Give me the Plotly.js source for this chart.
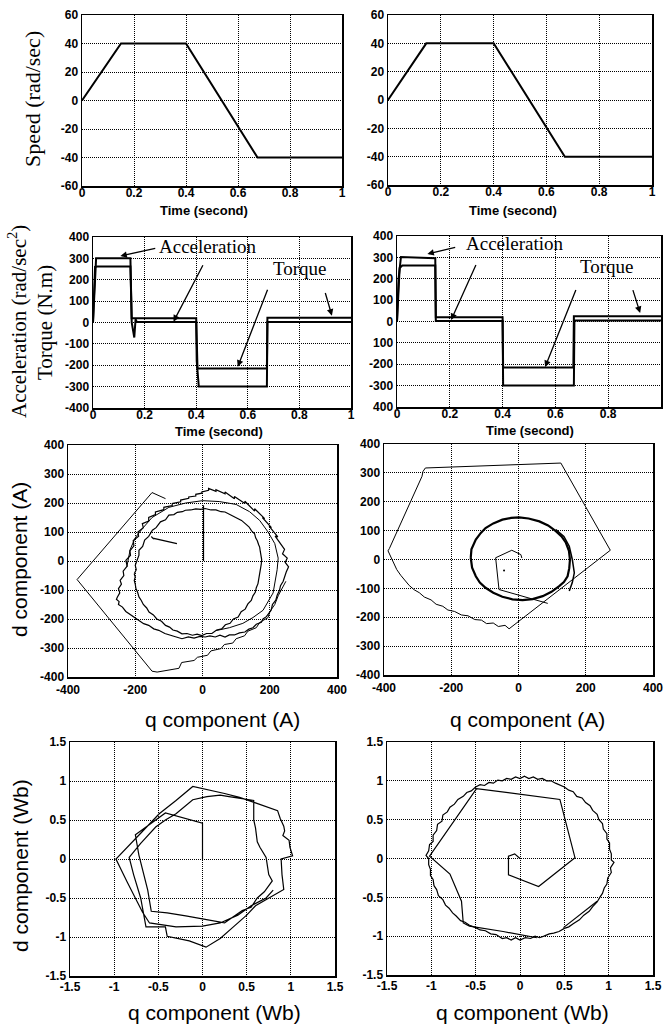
<!DOCTYPE html>
<html>
<head>
<meta charset="utf-8">
<script src="https://cdn.plot.ly/plotly-3.0.1.min.js"></script>
<style>html,body{margin:0;padding:0;background:#fff}#chart{width:664px;height:1028px}</style>
</head>
<body>
<div id="chart"></div>
<script>
// ---------- Row 1: speed ----------
const speedTimeL = [0, 0.15, 0.40, 0.675, 1.0];
const speedValL  = [0, 40, 40, -40, -40];
const speedTimeR = [0, 0.145, 0.40, 0.67, 1.0];
const speedValR  = [0, 40, 40, -40, -40];

// ---------- Row 2: acceleration / torque ----------
const accTimeL = [0, 0.005, 0.012, 0.145, 0.15, 0.16, 0.165, 0.17, 0.40, 0.402, 0.41, 0.674, 0.676, 1.0];
const accValL  = [0, 150, 300, 300, 0, -70, 15, 2, 2, -180, -300, -300, 2, 2];
const torTimeL = [0, 0.008, 0.015, 0.145, 0.15, 0.40, 0.405, 0.674, 0.676, 1.0];
const torValL  = [0, 260, 262, 262, 20, 20, -215, -215, 22, 22];
const accTimeR = [0, 0.006, 0.015, 0.145, 0.147, 0.40, 0.402, 0.67, 0.672, 1.0];
const accValR  = [0, 200, 302, 296, 2, 2, -300, -300, 5, 5];
const torTimeR = [0, 0.01, 0.02, 0.145, 0.147, 0.40, 0.402, 0.668, 0.67, 1.0];
const torValR  = [0, 250, 262, 262, 20, 20, -215, -215, 25, 25];

// ---------- Row 3: current trajectories (A), [q, d] pairs ----------
const curL_start = [[3,0],[3,192]];
const curL_hook = [[-76,60],[-148,79],[-152,84],[-145,76]];
const curL_inner = [[-203,-44],[-197,-30],[-200,-15],[-194,5],[-189,20],[-189,37],[-178,50],[-172,72],[-160,85],[-149,106],[-138,115],[-125,135],[-110,142],[-100,158],[-85,160],[-75,168],[-60,170],[-51,175],[-35,176],[-20,180],[-5,178],[8,181],[25,176],[40,176],[55,170],[67,169],[82,160],[95,155],[106,146],[116,140],[128,128],[138,118],[146,104],[155,94],[158,80],[163,70],[167,56],[170,48],[172,32],[174,20],[176,5],[175,-9],[172,-28],[171,-45],[168,-60],[165,-78],[160,-92],[157,-108],[150,-120],[145,-136],[135,-148],[127,-166],[115,-175],[106,-193],[92,-200],[82,-215],[68,-220],[57,-234],[42,-238],[28,-250],[12,-250],[-2,-257],[-16,-252],[-30,-256],[-46,-250],[-61,-251],[-75,-242],[-88,-238],[-98,-228],[-110,-222],[-122,-208],[-136,-200],[-146,-186],[-159,-176],[-166,-162],[-176,-150],[-182,-136],[-189,-124],[-193,-108],[-198,-95],[-200,-80],[-203,-67],[-200,-55],[-203,-44]];
const curL_mid = [[-225,-20],[-215,40],[-200,80],[-180,110],[-150,150],[-100,185],[-50,200],[0,208],[50,205],[100,195],[140,170],[170,140],[195,100],[215,60],[225,10],[222,-30],[210,-110],[195,-140],[180,-170],[150,-195],[120,-215],[80,-230],[40,-240]];
const curL_outer = [[-253,-124],[-246,-110],[-250,-95],[-241,-80],[-245,-67],[-234,-50],[-236,-35],[-224,-18],[-228,2],[-214,20],[-216,35],[-204,52],[-206,71],[-190,85],[-192,100],[-176,115],[-179,129],[-160,138],[-160,150],[-140,160],[-140,169],[-115,177],[-115,185],[-90,191],[-90,198],[-65,204],[-65,210],[-41,216],[-41,221],[-20,224],[-20,230],[-2,234],[-2,238],[18,244],[18,250],[40,240],[40,246],[67,232],[67,238],[95,215],[95,222],[126,198],[126,206],[155,172],[155,180],[185,146],[178,150],[205,115],[198,120],[224,83],[216,86],[235,55],[244,40],[238,25],[252,10],[246,-5],[256,-20],[249,-38],[244,-55],[240,-70],[232,-85],[229,-101],[222,-118],[218,-135],[208,-150],[204,-170],[196,-182],[190,-192],[180,-200],[175,-211],[160,-218],[150,-230],[138,-235],[126,-245],[110,-248],[95,-255],[80,-255],[67,-262],[52,-256],[38,-262],[22,-258],[8,-262],[-8,-260],[-25,-266],[-42,-262],[-61,-268],[-78,-262],[-95,-255],[-112,-250],[-130,-239],[-145,-234],[-160,-222],[-175,-216],[-189,-205],[-200,-196],[-215,-182],[-228,-174],[-238,-159],[-250,-150],[-248,-140],[-256,-132],[-253,-124]];
const curL_poly = [[-110,215],[-150,236],[-373,-64],[-150,-380],[-135,-383],[-100,-376],[-70,-370],[-62,-350],[-25,-343],[-15,-332],[15,-325],[25,-310],[55,-302],[65,-288],[90,-283],[100,-268],[125,-258],[135,-242],[160,-230],[170,-212],[195,-195],[200,-175],[215,-150],[225,-120],[235,-100],[248,-70]];

const curR_poly = [[-277,317],[126,334],[273,32],[-28,-240],[-40,-228],[-60,-232],[-75,-220],[-95,-222],[-110,-210],[-130,-208],[-150,-195],[-170,-192],[-190,-180],[-210,-175],[-225,-162],[-245,-155],[-260,-140],[-280,-130],[-295,-115],[-310,-105],[-325,-90],[-340,-70],[-350,-55],[-362,-35],[-370,-15],[-378,0],[-382,15],[-388,30],[-384,38],[-287,288],[-284,305],[-277,317]];
const curR_ring = [[-142,6],[-140,35],[-127,69],[-112,92],[-98,109],[-75,125],[-48,138],[-22,144],[2,146],[30,142],[62,132],[88,118],[111,98],[128,80],[141,58],[150,30],[153,0],[151,-30],[146,-58],[135,-78],[121,-92],[98,-112],[72,-127],[42,-137],[12,-141],[-18,-138],[-48,-129],[-75,-115],[-98,-98],[-115,-80],[-127,-58],[-138,-28],[-142,6]];
const curR_side = [[111,104],[135,80],[151,46],[160,0],[166,-46],[160,-80],[151,-109]];
const curR_pent = [[10,5],[7,17],[-20,32],[-68,6],[-58,-104],[87,-152]];
const curR_dot = [[-43,-38]];

// ---------- Row 4: flux trajectories (Wb), [q, d] pairs ----------
const fluxL = [[0,0],[0,0.46],[-0.42,0.59],[-0.76,0.31],[-0.72,0.05],[-0.62,-0.40],[-0.58,-0.67],[-0.40,-0.69],[-0.19,-0.73],[0.05,-0.78],[0.25,-0.82],[0.30,-0.78],[0.45,-0.66],[0.55,-0.62],[0.62,-0.50],[0.70,-0.42],[0.79,-0.28],[0.75,-0.20],[0.72,0.02],[0.65,0.15],[0.62,0.22],[0.60,0.40],[0.58,0.50],[0.58,0.75],[0.45,0.77],[0.30,0.80],[0.20,0.82],[0.05,0.80],[-0.11,0.76],[-0.30,0.58],[-0.42,0.50],[-0.53,0.41],[-0.70,0.20],[-0.83,0.02],[-0.78,-0.20],[-0.70,-0.50],[-0.64,-0.87],[-0.42,-0.87],[-0.40,-0.99],[-0.15,-1.05],[0.04,-1.13],[0.20,-1.02],[0.34,-0.88],[0.50,-0.72],[0.60,-0.60],[0.75,-0.50],[0.92,-0.39],[0.90,-0.20],[0.89,0.00],[1.02,0.04],[0.99,0.15],[0.98,0.24],[0.91,0.30],[0.93,0.36],[0.92,0.42],[0.88,0.52],[0.85,0.62],[0.60,0.72],[0.42,0.79],[0.25,0.84],[0.10,0.88],[-0.11,0.93],[-0.30,0.75],[-0.49,0.58],[-0.70,0.33],[-0.98,0.00],[-0.85,-0.30],[-0.68,-0.68],[-0.60,-0.82],[-0.30,-0.87],[0.00,-0.86],[0.20,-0.82],[0.40,-0.72],[0.55,-0.60],[0.72,-0.50],[0.80,-0.40]];
const fluxR_start = [[0,0],[-0.06,0.06],[-0.13,0.03],[-0.13,-0.21],[0.21,-0.36],[0.62,0.01],[0.45,0.76],[-0.49,0.90],[-1.02,0.03],[-0.79,-0.20],[-0.66,-0.55],[-0.64,-0.83],[-0.57,-0.87],[-0.19,-0.94],[0.19,-1.02]];
const fluxR_chord = [[0.49,-0.89],[0.87,-0.55]];
const fluxR_ring = [[-0.5,0.92],[-0.45,0.95],[-0.4,0.94],[-0.35,0.98],[-0.3,0.97],[-0.25,1.01],[-0.2,1.0],[-0.15,1.03],[-0.1,1.02],[-0.05,1.05],[0.0,1.03],[0.05,1.06],[0.1,1.03],[0.15,1.05],[0.2,1.02],[0.25,1.03],[0.3,1.0],[0.35,1.0],[0.4,0.97],[0.45,0.95],[0.5,0.92],[0.55,0.88],[0.6,0.86],[0.64,0.8],[0.7,0.78],[0.74,0.72],[0.79,0.68],[0.82,0.62],[0.87,0.57],[0.89,0.5],[0.93,0.45],[0.94,0.38],[0.98,0.32],[0.98,0.25],[1.01,0.2],[1.01,0.12],[1.03,0.06],[1.03,-0.02],[1.06,-0.05],[1.02,-0.12],[1.03,-0.18],[0.99,-0.25],[0.98,-0.33],[0.95,-0.38],[0.93,-0.45],[0.9,-0.5],[0.87,-0.56],[0.82,-0.62],[0.78,-0.68],[0.72,-0.73],[0.67,-0.79],[0.6,-0.84],[0.55,-0.88],[0.5,-0.9],[0.44,-0.94],[0.38,-0.96],[0.33,-0.97],[0.27,-1.0],[0.22,-1.02],[0.17,-1.0],[0.12,-1.03],[0.06,-1.02],[0.0,-1.05],[-0.05,-1.02],[-0.1,-1.05],[-0.15,-1.02],[-0.2,-1.03],[-0.27,-0.98],[-0.33,-0.97],[-0.39,-0.93],[-0.45,-0.92],[-0.5,-0.89],[-0.57,-0.86],[-0.62,-0.82],[-0.67,-0.8],[-0.72,-0.74],[-0.76,-0.7],[-0.8,-0.64],[-0.84,-0.6],[-0.87,-0.53],[-0.92,-0.48],[-0.94,-0.4],[-0.97,-0.35],[-0.98,-0.27],[-1.01,-0.22],[-1.01,-0.14],[-1.03,-0.08],[-1.03,0.0],[-1.06,0.04],[-1.03,0.1],[-1.02,0.18],[-0.98,0.22],[-0.98,0.3],[-0.94,0.36],[-0.93,0.44],[-0.88,0.48],[-0.87,0.56],[-0.82,0.6],[-0.79,0.66],[-0.74,0.7],[-0.7,0.76],[-0.64,0.8],[-0.6,0.85],[-0.55,0.87],[-0.5,0.92]];

// ---------- tick labels ----------
const timeTicks = [0,0.2,0.4,0.6,0.8,1];
const timeTickText = ['0','0.2','0.4','0.6','0.8','1'];
const speedTicks = [-60,-40,-20,0,20,40,60];
const speedTickText = ['-60','-40','-20','0','20','40','60'];
const torqueTicks = [-400,-300,-200,-100,0,100,200,300,400];
const torqueTickTextL = ['-400','-300','-200','-100','0','100','200','300','400'];
const torqueTickTextR = ['400','-300','-200','100','0','100','200','300','400'];
const curTicks = [-400,-300,-200,-100,0,100,200,300,400];
const curTickText = ['-400','-300','-200','-100','0','100','200','300','400'];
const curXTicks = [-400,-200,0,200,400];
const curXTickText = ['-400','-200','0','200','400'];
const fluxTicks = [-1.5,-1,-0.5,0,0.5,1,1.5];
const fluxTickText = ['-1.5','-1','-0.5','0','0.5','1','1.5'];

// ---------- layout helpers ----------
const W = 664, H = 1028;
const SANS = 'Liberation Sans, Arial, sans-serif';
const SERIF = 'Liberation Serif, Times New Roman, serif';
function dx(a,b){return [a/W, b/W];}
function dy(top,bot){return [1-bot/H, 1-top/H];}
function axis(domain, range, vals, text, anchor, standoff){
  return {domain: domain, range: range, tickmode:'array', tickvals: vals, ticktext: text,
    anchor: anchor, showgrid:true, gridcolor:'#000', griddash:'1px,1px', gridwidth:1,
    zeroline:false, showline:true, linecolor:'#000', linewidth:1.5, mirror:true,
    ticks:'', ticklabelstandoff: standoff||0,
    tickfont:{family:SANS, size:12, color:'#000', weight:'bold'}, fixedrange:true};
}
function line(pts, xa, ya, w){
  return {x: pts.map(p=>p[0]), y: pts.map(p=>p[1]), xaxis:xa, yaxis:ya, mode:'lines',
    line:{color:'#000', width:w||1}, hoverinfo:'skip'};
}
function line2(x, y, xa, ya, w){
  return {x:x, y:y, xaxis:xa, yaxis:ya, mode:'lines', line:{color:'#000', width:w||1}, hoverinfo:'skip'};
}

const traces = [
  line2(speedTimeL, speedValL, 'x', 'y', 2),
  line2(speedTimeR, speedValR, 'x2', 'y2', 2),
  line2(accTimeL, accValL, 'x3', 'y3', 2),
  line2(torTimeL, torValL, 'x3', 'y3', 2),
  line2(accTimeR, accValR, 'x4', 'y4', 2),
  line2(torTimeR, torValR, 'x4', 'y4', 2),
  line(curL_start, 'x5', 'y5', 1.2),
  line(curL_hook, 'x5', 'y5', 1.2),
  line(curL_inner, 'x5', 'y5', 1.2),
  line(curL_mid, 'x5', 'y5', 1),
  line(curL_outer, 'x5', 'y5', 1.2),
  line(curL_poly, 'x5', 'y5', 1),
  line(curR_poly, 'x6', 'y6', 1),
  line(curR_ring, 'x6', 'y6', 2.2),
  line(curR_side, 'x6', 'y6', 1.5),
  line(curR_pent, 'x6', 'y6', 1),
  {x: curR_dot.map(p=>p[0]), y: curR_dot.map(p=>p[1]), xaxis:'x6', yaxis:'y6', mode:'markers', marker:{color:'#000', size:2}, hoverinfo:'skip'},
  line(fluxL, 'x7', 'y7', 1.2),
  line(fluxR_start, 'x8', 'y8', 1.2),
  line(fluxR_chord, 'x8', 'y8', 1.2),
  line(fluxR_ring, 'x8', 'y8', 1.2)
];

function ann(text, px, py, size, family, angle){
  return {text: text, x: px/W, y: 1-py/H, xref:'paper', yref:'paper', showarrow:false,
    xanchor:'center', yanchor:'middle', textangle: angle||0,
    font:{family: family, size: size, color:'#000'}};
}
function tbold(text, px, py){
  const a = ann(text, px, py, 13, SANS, 0); a.font.weight = 'bold'; return a;
}
function arrow(xr, yr, hx, hy, tx, ty){
  return {text:' ', x:hx, y:hy, ax:tx, ay:ty, xref:xr, yref:yr, axref:xr, ayref:yr,
    showarrow:true, arrowhead:2, arrowsize:1, arrowwidth:1.3, arrowcolor:'#000', standoff:0,
    font:{size:2}};
}
function label(xr, yr, text, x, y){
  return {text:text, x:x, y:y, xref:xr, yref:yr, showarrow:false, xanchor:'center', yanchor:'middle',
    font:{family:SERIF, size:19, color:'#000'}};
}

const annotations = [
  ann('Speed (rad/sec)', 33, 99, 22, SERIF, -90),
  ann('Acceleration (rad/sec<sup>2</sup>)', 17, 322, 21, SERIF, -90),
  ann('Torque (N.m)', 45, 323, 21, SERIF, -90),
  ann('d component (A)', 19, 560, 21, SANS, -90),
  ann('d component (Wb)', 20, 866, 21, SANS, -90),
  tbold('Time (second)', 204, 211),
  tbold('Time (second)', 513, 211),
  tbold('Time (second)', 219, 431),
  tbold('Time (second)', 530, 430),
  ann('q component (A)', 222, 719, 21, SANS, 0),
  ann('q component (A)', 527, 719, 21, SANS, 0),
  ann('q component (Wb)', 214, 1012, 21, SANS, 0),
  ann('q component (Wb)', 522, 1012, 21, SANS, 0),
  label('x3','y3','Acceleration', 0.445, 355),
  arrow('x3','y3', 0.106, 311, 0.249, 349),
  arrow('x3','y3', 0.312, 4, 0.432, 282),
  label('x3','y3','Torque', 0.803, 253),
  arrow('x3','y3', 0.561, -207, 0.681, 167),
  arrow('x3','y3', 0.926, 32, 0.897, 152),
  label('x4','y4','Acceleration', 0.447, 367),
  arrow('x4','y4', 0.115, 316, 0.228, 349),
  arrow('x4','y4', 0.205, 7, 0.304, 278),
  label('x4','y4','Torque', 0.796, 255),
  arrow('x4','y4', 0.561, -213, 0.682, 161),
  arrow('x4','y4', 0.921, 40, 0.890, 161)
];

const layout = {
  width: W, height: H, margin:{l:0, r:0, t:0, b:0},
  paper_bgcolor:'#fff', plot_bgcolor:'#fff', showlegend:false,
  xaxis:  axis(dx(82,342),  [0,1], timeTicks, timeTickText, 'y', -5),
  yaxis:  axis(dy(15,186),  [-60,60], speedTicks, speedTickText, 'x'),
  xaxis2: axis(dx(388,652), [0,1], timeTicks, timeTickText, 'y2', -5),
  yaxis2: axis(dy(15,185),  [-60,60], speedTicks, speedTickText, 'x2'),
  xaxis3: axis(dx(93,351),  [0,1], timeTicks, timeTickText, 'y3', -5),
  yaxis3: axis(dy(237,408), [-400,400], torqueTicks, torqueTickTextL, 'x3'),
  xaxis4: axis(dx(397,661), [0,1], timeTicks, timeTickText, 'y4', -5),
  yaxis4: axis(dy(236,407), [-400,400], torqueTicks, torqueTickTextR, 'x4'),
  xaxis5: axis(dx(68,337),  [-400,400], curXTicks, curXTickText, 'y5', 1),
  yaxis5: axis(dy(445,677), [-400,400], curTicks, curTickText, 'x5'),
  xaxis6: axis(dx(384,653), [-400,400], curXTicks, curXTickText, 'y6', 1),
  yaxis6: axis(dy(444,675), [-400,400], curTicks, curTickText, 'x6'),
  xaxis7: axis(dx(70,335),  [-1.5,1.5], fluxTicks, fluxTickText, 'y7', -1),
  yaxis7: axis(dy(742,976), [-1.5,1.5], fluxTicks, fluxTickText, 'x7'),
  xaxis8: axis(dx(387,653), [-1.5,1.5], fluxTicks, fluxTickText, 'y8', -1),
  yaxis8: axis(dy(742,975), [-1.5,1.5], fluxTicks, fluxTickText, 'x8'),
  annotations: annotations
};

Plotly.newPlot('chart', traces, layout, {staticPlot:true, displayModeBar:false});
</script>
</body>
</html>
